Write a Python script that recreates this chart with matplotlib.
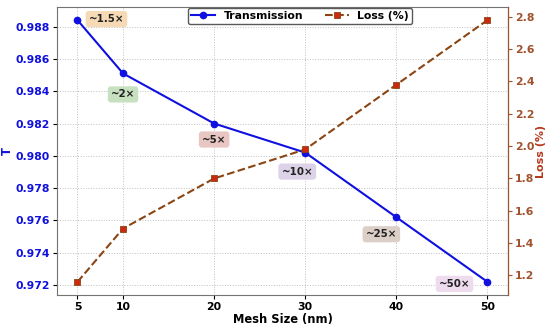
import matplotlib
matplotlib.use("Agg")
import matplotlib.pyplot as plt

# data
mesh_nm = [5, 10, 20, 30, 40, 50]
transmission = [0.9884, 0.9851, 0.9820, 0.9802, 0.9762, 0.9722]
loss_pct = [1.16, 1.49, 1.80, 1.98, 2.38, 2.78]
speedup_labels = ["~1.5×", "~2×", "~5×", "~10×", "~25×", "~50×"]

# label placement (pixel offsets from each T point) and box colours
label_offsets = [(29, 1), (0, -21), (0, -16), (-8, -19), (-15, -17), (-33, -2)]
label_colors = ["#f6dab6", "#c6e0c0", "#e8c6c2", "#dcd3e8", "#dbcfc8", "#eedcee"]

BLUE = "#1010e0"
BROWN = "#8b4513"
TICK_BROWN = "#a0522d"

plt.rcParams["font.family"] = "DejaVu Sans"
plt.rcParams["font.weight"] = "bold"

fig, ax = plt.subplots(figsize=(5.5, 3.27), dpi=100)
fig.subplots_adjust(left=0.1036, right=0.9236, top=0.9786, bottom=0.0979)

ax.plot(mesh_nm, transmission, "-o", color=BLUE, lw=1.5, ms=4.5, label="Transmission")
ax.set_xlabel("Mesh Size (nm)", fontsize=8.3, fontweight="bold", labelpad=1)
ax.set_ylabel("T", fontsize=8.3, fontweight="bold", color=BLUE, labelpad=1)
ax.set_xticks(mesh_nm)
ax.set_yticks([0.972, 0.974, 0.976, 0.978, 0.980, 0.982, 0.984, 0.986, 0.988])
ax.set_yticklabels(["%.3f" % v for v in ax.get_yticks()])
ax.tick_params(axis="y", labelcolor=BLUE, labelsize=7.8, length=3, pad=2)
ax.tick_params(axis="x", labelsize=7.8, length=3, pad=2)
ax.grid(True, ls=":", color="0.75", lw=0.7)
for s in ["left", "top", "bottom"]:
    ax.spines[s].set_color("0.45")

ax2 = ax.twinx()
ax2.plot(mesh_nm, loss_pct, "--s", color=BROWN, lw=1.5, ms=5,
         markerfacecolor="#cc2a10", markeredgecolor=BROWN, markeredgewidth=0.6,
         label="Loss (%)")
ax2.set_ylabel("Loss (%)", fontsize=8.0, fontweight="bold", color="#b5381c", labelpad=1)
ax2.set_yticks([1.2, 1.4, 1.6, 1.8, 2.0, 2.2, 2.4, 2.6, 2.8])
ax2.tick_params(axis="y", labelcolor=TICK_BROWN, colors=TICK_BROWN, labelsize=7.8,
                length=3, pad=2)
ax2.tick_params(axis="y", labelcolor=TICK_BROWN)
ax2.spines["right"].set_color(TICK_BROWN)
for s in ["left", "top", "bottom"]:
    ax2.spines[s].set_visible(False)

for x, y, lab, off, c in zip(mesh_nm, transmission, speedup_labels, label_offsets, label_colors):
    ax2.annotate(lab, xy=(x, y), xycoords=ax.transData,
                 xytext=(off[0] * 0.72, off[1] * 0.72), textcoords="offset points",
                 ha="center", va="center", fontsize=7.4, fontweight="bold", color="#222222",
                 bbox=dict(boxstyle="round,pad=0.3", fc=c, ec="none"))

h1, l1 = ax.get_legend_handles_labels()
h2, l2 = ax2.get_legend_handles_labels()
leg = ax2.legend(h1 + h2, l1 + l2, loc="upper center", bbox_to_anchor=(0.539, 1.0),
                 ncol=2, fontsize=7.8, frameon=True, borderaxespad=0.05,
                 handlelength=2.2, columnspacing=2.0, borderpad=0.3)
leg.get_frame().set_edgecolor("0.35")
leg.get_frame().set_linewidth(1.0)
leg.get_frame().set_alpha(1.0)

fig.savefig("out.png", dpi=100)
